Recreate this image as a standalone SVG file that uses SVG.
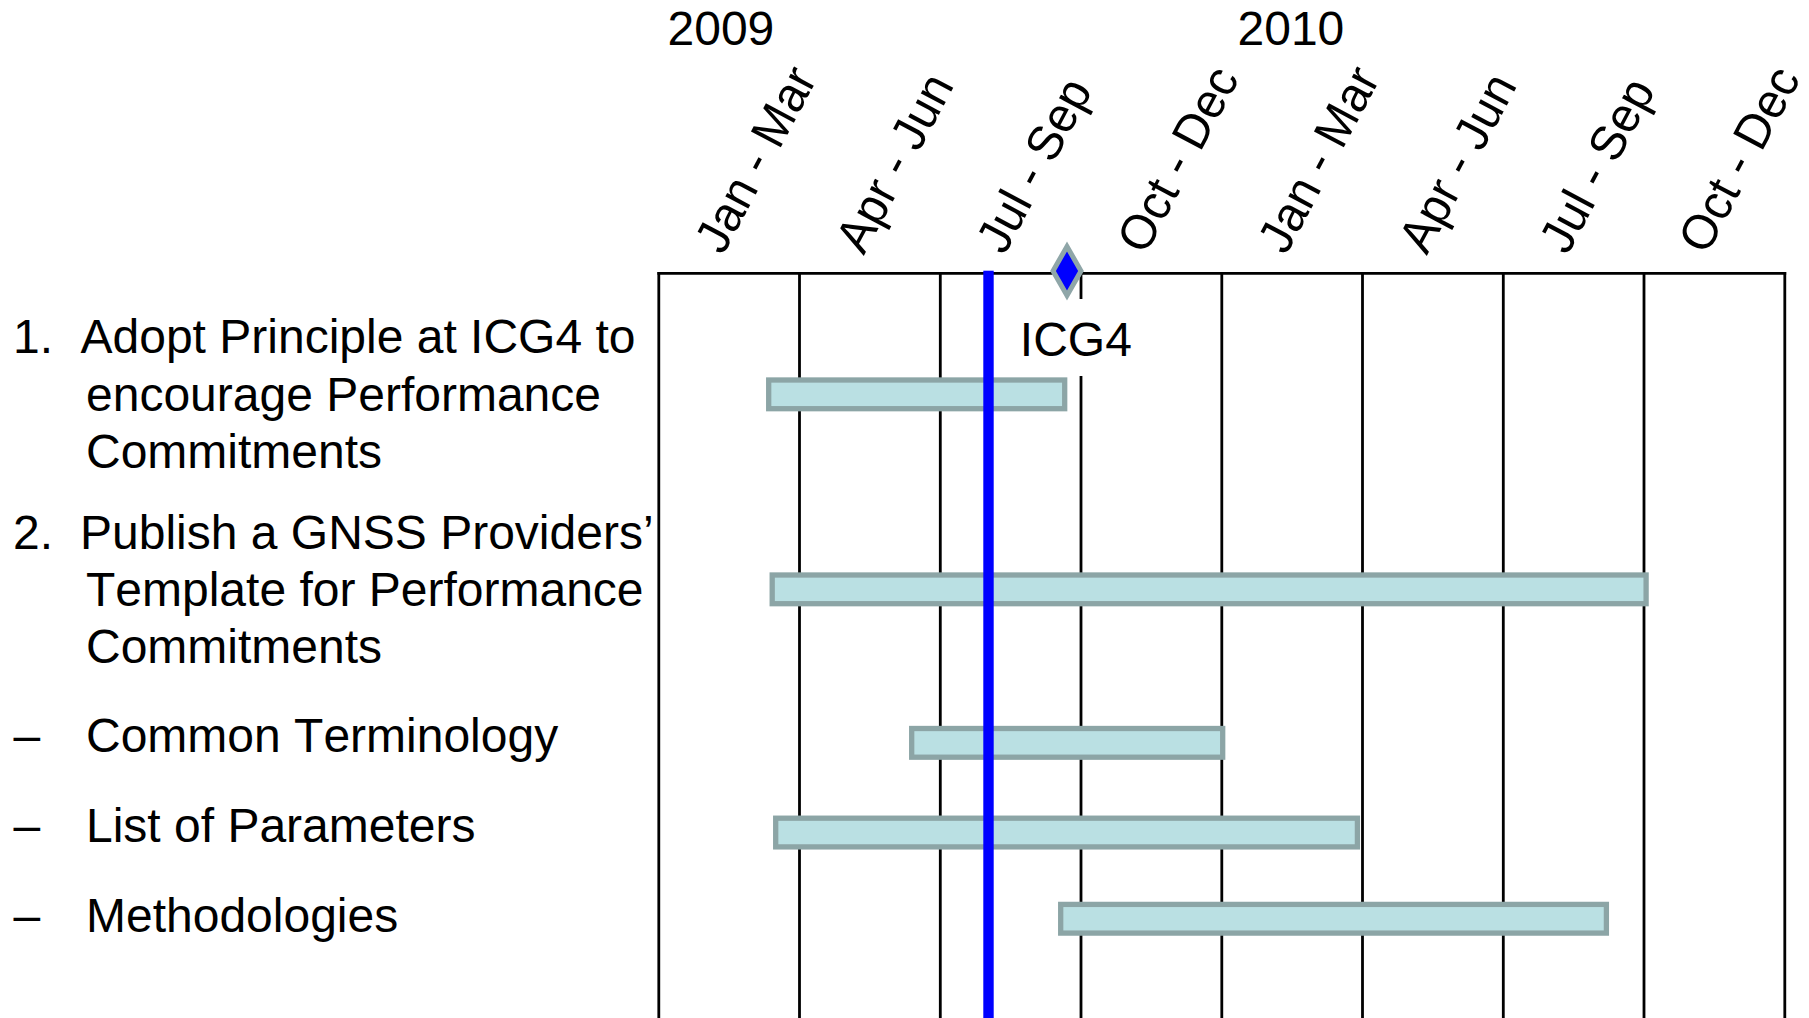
<svg xmlns="http://www.w3.org/2000/svg" width="1809" height="1018" viewBox="0 0 1809 1018">
<style>
.t{font-family:"Liberation Sans",Arial,sans-serif;font-size:48px;fill:#000;font-kerning:none}
.q{font-size:49.2px}
.grid{stroke:#000;stroke-width:2.8;fill:none}
.bar{fill:#BAE0E3;stroke:#8CA5A6;stroke-width:5.3}
</style>
<rect x="0" y="0" width="1809" height="1018" fill="#fff"/>
<g id="grid">
<line class="grid" x1="657.4" y1="273.4" x2="1786.2" y2="273.4"/>
<line class="grid" x1="658.8" y1="272" x2="658.8" y2="1018"/>
<line class="grid" x1="799.5" y1="272" x2="799.5" y2="1018"/>
<line class="grid" x1="940.3" y1="272" x2="940.3" y2="1018"/>
<line class="grid" x1="1081" y1="272" x2="1081" y2="1018"/>
<line class="grid" x1="1221.8" y1="272" x2="1221.8" y2="1018"/>
<line class="grid" x1="1362.5" y1="272" x2="1362.5" y2="1018"/>
<line class="grid" x1="1503.3" y1="272" x2="1503.3" y2="1018"/>
<line class="grid" x1="1644" y1="272" x2="1644" y2="1018"/>
<line class="grid" x1="1784.8" y1="272" x2="1784.8" y2="1018"/>
</g>
<g id="years">
<text class="t" x="667.5" y="45">2009</text>
<text class="t" x="1237.5" y="45">2010</text>
</g>
<g id="quarters">
<text class="t q" transform="matrix(0.4554,-0.8564,0.8829,0.4695,723,256)">Jan - Mar</text>
<text class="t q" transform="matrix(0.4554,-0.8564,0.8829,0.4695,863.8,256)">Apr - Jun</text>
<text class="t q" transform="matrix(0.4554,-0.8564,0.8829,0.4695,1004.5,256)">Jul - Sep</text>
<text class="t q" transform="matrix(0.4554,-0.8564,0.8829,0.4695,1145.3,256)">Oct - Dec</text>
<text class="t q" transform="matrix(0.4554,-0.8564,0.8829,0.4695,1286,256)">Jan - Mar</text>
<text class="t q" transform="matrix(0.4554,-0.8564,0.8829,0.4695,1426.8,256)">Apr - Jun</text>
<text class="t q" transform="matrix(0.4554,-0.8564,0.8829,0.4695,1567.5,256)">Jul - Sep</text>
<text class="t q" transform="matrix(0.4554,-0.8564,0.8829,0.4695,1706.5,256)">Oct - Dec</text>
</g>
<g id="tasks">
<g id="task1">
<text class="t" x="13" y="353">1.</text>
<text class="t" x="80.5" y="353">Adopt Principle at ICG4 to</text>
<text class="t" x="86" y="410.7">encourage Performance</text>
<text class="t" x="86" y="468.4">Commitments</text>
</g>
<g id="task2">
<text class="t" x="13" y="549.2">2.</text>
<text class="t" x="80" y="549.2">Publish a GNSS Providers’</text>
<text class="t" x="86" y="605.7">Template for Performance</text>
<text class="t" x="86" y="663.4">Commitments</text>
</g>
<g id="task3">
<text class="t" x="13.5" y="752">–</text>
<text class="t" x="86" y="752">Common Terminology</text>
</g>
<g id="task4">
<text class="t" x="13.5" y="842">–</text>
<text class="t" x="86" y="842">List of Parameters</text>
</g>
<g id="task5">
<text class="t" x="13.5" y="932">–</text>
<text class="t" x="86" y="932">Methodologies</text>
</g>
</g>
<g id="bars">
<rect id="bar1" class="bar" x="768.7" y="380" width="296" height="28.7"/>
<rect id="bar2" class="bar" x="772.2" y="575" width="873.9" height="28.7"/>
<rect id="bar3" class="bar" x="911.7" y="728.5" width="311" height="28.7"/>
<rect id="bar4" class="bar" x="775.7" y="818.2" width="581.7" height="28.7"/>
<rect id="bar5" class="bar" x="1060.7" y="904.4" width="545.7" height="28.7"/>
</g>
<g id="milestone">
<rect x="1012" y="299" width="128" height="77" fill="#fff"/>
<text class="t" x="1019.8" y="356">ICG4</text>
<path d="M1067,246.5 L1081,271 L1067,295.5 L1053,271 Z" fill="#0000FF" stroke="#8FA6A8" stroke-width="5"/>
</g>
<g id="today">
<rect x="983.3" y="270.7" width="10.4" height="747.3" fill="#0000FF"/>
</g>
</svg>
